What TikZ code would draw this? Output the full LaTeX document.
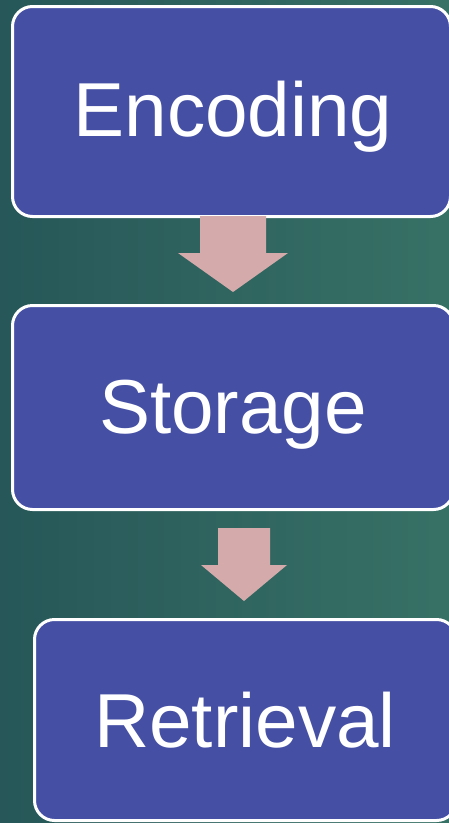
\documentclass[tikz,border=0pt]{standalone}
\usepackage{fontspec}
\setmainfont{Liberation Sans}
\definecolor{bgL}{RGB}{38,86,88}
\definecolor{bgR}{RGB}{56,114,102}
\definecolor{boxblue}{RGB}{69,80,165}
\definecolor{arrowpink}{RGB}{212,170,170}
\tikzset{
  stagebox/.style={draw=white, line width=3pt, fill=boxblue, rounded corners=20pt, inner sep=0pt},
  stagetext/.style={text=white, font=\fontsize{76.5}{90}\selectfont, anchor=base, inner sep=0pt},
  blockarrow/.style={fill=arrowpink}
}
\begin{document}
\begin{tikzpicture}[x=1pt,y=-1pt]
\useasboundingbox (0,0) rectangle (449,823);
\clip (0,0) rectangle (449,823);
\shade[shading=axis, shading angle=80, left color=bgL, right color=bgR] (-20,-20) rectangle (469,843);
% boxes
\node[stagebox, minimum width=438pt, minimum height=210pt] (enc) at (231.5,111.5) {};
\node[stagebox, minimum width=441pt, minimum height=204pt] (sto) at (233,407.5) {};
\node[stagebox, minimum width=422pt, minimum height=201pt] (ret) at (245.5,720) {};
% texts
\node[stagetext] (enct) at (233,136) {Encoding};
\node[stagetext] (stot) at (233,433) {Storage};
\node[stagetext] (rett) at (245,747) {Retrieval};
% arrows
\fill[blockarrow] (200,216) -- (266,216) -- (266,253) -- (288,253) -- (233,292) -- (178,253) -- (200,253) -- cycle;
\fill[blockarrow] (218,528) -- (270,528) -- (270,565) -- (287,565) -- (244,601) -- (201,565) -- (218,565) -- cycle;
\end{tikzpicture}
\end{document}
